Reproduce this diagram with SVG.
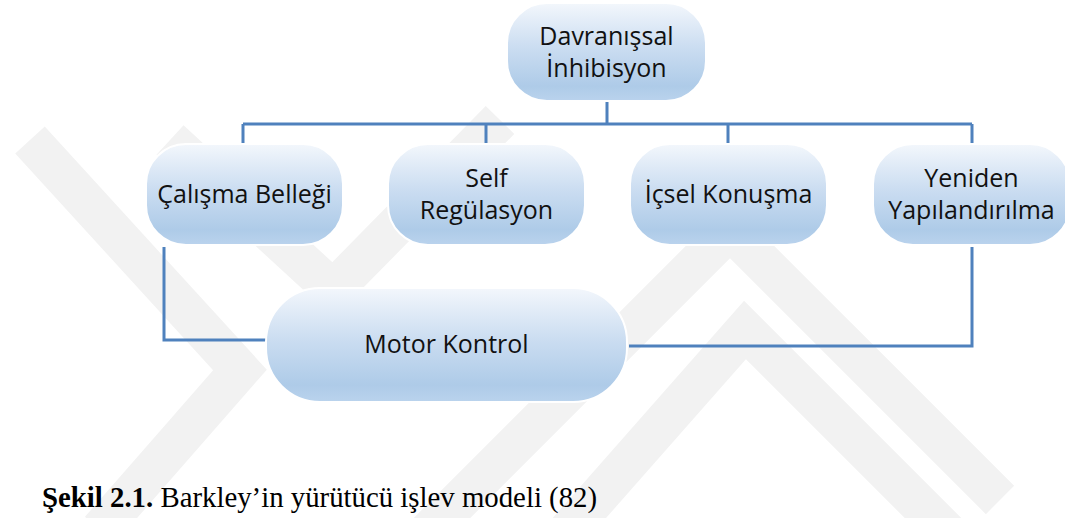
<svg xmlns="http://www.w3.org/2000/svg" width="1065" height="518" viewBox="0 0 1065 518">
<defs>
<linearGradient id="g" x1="0" y1="0" x2="0" y2="1">
<stop offset="0" stop-color="#f3f7fc"/>
<stop offset="0.45" stop-color="#cbddf1"/>
<stop offset="0.85" stop-color="#aecbe8"/>
<stop offset="1" stop-color="#bad3ed"/>
</linearGradient>
</defs>
<style>
.n{fill:url(#g);stroke:#fff;stroke-width:2}
.t{font-family:"Open Sans","Liberation Sans",sans-serif;font-size:25px;fill:#111;text-anchor:middle}
.c{fill:none;stroke:#4f81bd;stroke-width:3}
.w{fill:none;stroke:#f2f2f2;stroke-width:40;stroke-linejoin:miter}
.cap{font-family:"Liberation Serif","Times New Roman",serif;font-size:28.8px;fill:#000}
</style>
<rect width="1065" height="518" fill="#fff"/>
<g id="watermark">
<polyline class="w" points="30,140 240,370 100,530"/>
<polyline class="w" points="170,140 333,290 500,120"/>
<polyline class="w" points="560,540 745,330 960,545"/>
<polyline class="w" points="420,540 730,230 1000,500"/>
</g>
<g id="connectors">
<path class="c" d="M607,101V124M243,124H972M243,124V144M486,124V144M728,124V144M972,124V144"/>
<path class="c" d="M164,247V340H266"/>
<path class="c" d="M629,346H972V247"/>
</g>
<g id="n-davranissal">
<rect class="n" x="507" y="3" width="199" height="98" rx="40"/>
<text class="t" x="606.5" y="45">Davranışsal</text>
<text class="t" x="606.5" y="77">İnhibisyon</text>
</g>
<g id="n-calisma">
<rect class="n" x="146" y="144" width="197" height="101" rx="40"/>
<text class="t" x="244.5" y="203">Çalışma Belleği</text>
</g>
<g id="n-self">
<rect class="n" x="388" y="144" width="197" height="101" rx="40"/>
<text class="t" x="486.5" y="187">Self</text>
<text class="t" x="486.5" y="219">Regülasyon</text>
</g>
<g id="n-icsel">
<rect class="n" x="630" y="144" width="197" height="101" rx="40"/>
<text class="t" x="728.5" y="203">İçsel Konuşma</text>
</g>
<g id="n-yeniden">
<rect class="n" x="873" y="144" width="197" height="101" rx="40"/>
<text class="t" x="971.5" y="187">Yeniden</text>
<text class="t" x="971.5" y="219">Yapılandırılma</text>
</g>
<g id="n-motor">
<rect class="n" x="266" y="288" width="361" height="114" rx="54"/>
<text class="t" x="446.5" y="353">Motor Kontrol</text>
</g>
<text class="cap" x="42" y="507"><tspan font-weight="bold">Şekil 2.1.</tspan> Barkley’in yürütücü işlev modeli (82)</text>
</svg>
